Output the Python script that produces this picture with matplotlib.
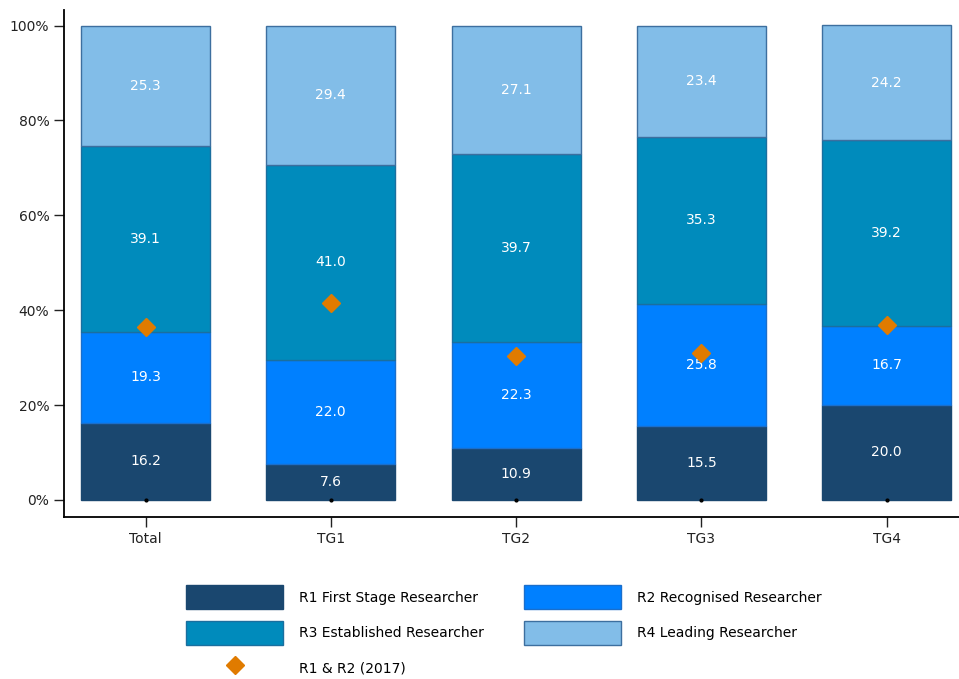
import numpy as np
import matplotlib.pyplot as plt
from matplotlib.patches import Patch
from matplotlib.lines import Line2D

plt.rcParams['font.family'] = ['DejaVu Sans']

groups = ['Total', 'TG1', 'TG2', 'TG3', 'TG4']
r1 = [16.2, 7.6, 10.9, 15.5, 20.0]
r2 = [19.3, 22.0, 22.3, 25.8, 16.7]
r3 = [39.1, 41.0, 39.7, 35.3, 39.2]
r4 = [25.3, 29.4, 27.1, 23.4, 24.2]
r12_2017 = [36.4, 41.5, 30.3, 30.9, 36.8]

labels = ['R1 First Stage Researcher', 'R2 Recognised Researcher',
          'R3 Established Researcher', 'R4 Leading Researcher']
colors = ['#1a476f', '#0080ff', '#008bbc', '#82bde8']
edges = ['#1a476f', '#1a6fcc', '#1a6f9f', '#3d6f9f']

fig = plt.figure(figsize=(9.59, 6.79), dpi=100)
ax = fig.add_axes([0.0667, 0.2386, 0.9333, 0.746])

x = np.arange(len(groups))
bottom = np.zeros(len(groups))
for vals, c, ec in zip([r1, r2, r3, r4], colors, edges):
    vals = np.array(vals)
    ax.bar(x, vals, bottom=bottom, width=0.695, color=c, edgecolor=ec, linewidth=1)
    for xi, b, v in zip(x, bottom, vals):
        ax.text(xi, b + v / 2, f'{v:.1f}', ha='center', va='center',
                color='white', fontsize=10)
    bottom += vals

ax.plot(x, np.zeros(len(x)), 'o', color='black', ms=2)
ax.plot(x, r12_2017, 'D', color='#e07b00', ms=9, zorder=5)

ax.set_xlim(-0.44, 4.39)
ax.set_ylim(-3.6, 103.2)
ax.set_xticks(x)
ax.set_xticklabels(groups)
ax.set_yticks([0, 20, 40, 60, 80, 100])
ax.set_yticklabels([f'{v}%' for v in [0, 20, 40, 60, 80, 100]])
ax.tick_params(axis='both', length=7, width=1, labelsize=10, colors='#222222')
ax.spines['top'].set_visible(False)
ax.spines['right'].set_visible(False)
ax.spines['left'].set_linewidth(1.3)
ax.spines['bottom'].set_linewidth(1.3)

h = [Patch(facecolor=colors[i], edgecolor=edges[i]) for i in range(4)]
dia = Line2D([], [], marker='D', color='#e07b00', linestyle='none', ms=9)
fig.legend([h[0], h[2], dia, h[1], h[3]],
           [labels[0], labels[2], 'R1 & R2 (2017)', labels[1], labels[3]],
           ncol=2, loc='center', bbox_to_anchor=(0.5257, 0.068), frameon=False,
           fontsize=10, handlelength=7, handleheight=2.25, handletextpad=1.15,
           columnspacing=2.88, labelspacing=0.85)

fig.savefig('out.png', dpi=100)
